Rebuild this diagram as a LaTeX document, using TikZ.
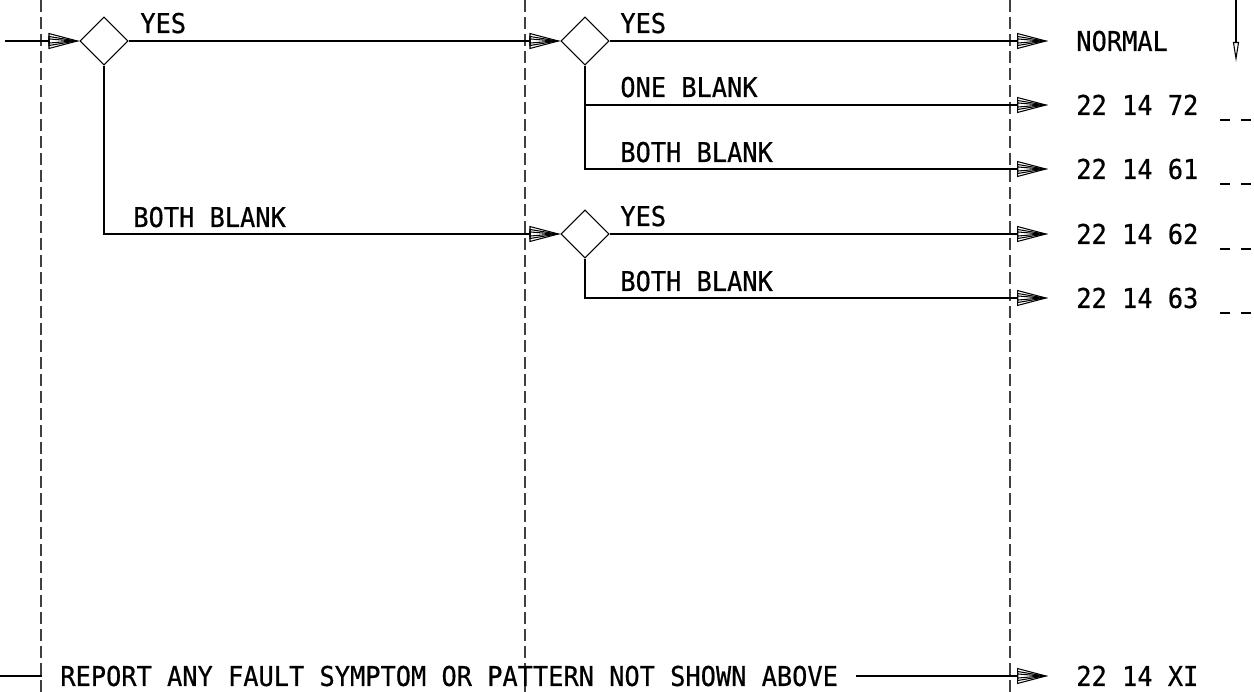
\documentclass[tikz,border=0pt]{standalone}
\usepackage{fontspec}
\newfontfamily\chartfont[FakeStretch=0.93,FakeBold=0.6]{DejaVu Sans Mono}
\usepackage{tikz}
\usetikzlibrary{
  arrows.meta,
  positioning,
  shapes.geometric,
  calc,
}

\begin{document}
\begin{tikzpicture}[
  x=0.02cm, y=-0.02cm,
  decision/.style={
    draw, shape=diamond, minimum width=0.96cm, minimum height=0.96cm,
    inner sep=0pt, line width=0.6pt,
  },
  branch/.style={
    font=\chartfont\fontsize{15.5}{18}\selectfont, anchor=base west,
    inner sep=0pt,
  },
  outcome/.style={
    font=\chartfont\fontsize{15.5}{18}\selectfont, anchor=west,
    inner xsep=0.56cm, inner ysep=0pt, text height=11.3pt, text depth=0pt,
  },
  connector/.style={
    -{Triangle[open,length=0.62cm,width=0.32cm,sep=-0.62cm]
      Triangle[open,length=0.62cm,width=0.2cm,sep=-0.62cm]
      Triangle[open,length=0.62cm,width=0.1cm]},
    line width=0.6pt,
  },
  divider/.style={
    dash pattern=on 0.24cm off 0.1cm, color=black!75, line width=0.6pt,
  },
  stub/.style={dash pattern=on 0.2cm off 0.22cm, line width=0.6pt},
]
  \useasboundingbox (0,0) rectangle (1254,692);

  % --- column dividers ---
  \foreach \x in {41,525,1010}
    \draw[divider] (\x,0) -- (\x,692);

  % --- decisions ---
  \node[decision] (d1) at (104,41) {};
  \node[decision] (d2) at (585,41) {};
  \node[decision] (d3) at (585,234) {};

  % --- outcomes ---
  \node[outcome] (normal) at (1048,41)  {NORMAL};
  \node[outcome] (c72)    at (1048,105) {22 14 72};
  \node[outcome] (c61)    at (1048,169) {22 14 61};
  \node[outcome] (c62)    at (1048,234) {22 14 62};
  \node[outcome] (c63)    at (1048,298) {22 14 63};
  \node[outcome] (cxi)    at (1048,676) {22 14 XI};
  \node[outcome, inner xsep=0.36cm] (report) at (42,676)
    {REPORT ANY FAULT SYMPTOM OR PATTERN NOT SHOWN ABOVE};

  % --- branch labels ---
  \node[branch] at (140,33)  {YES};
  \node[branch] at (133,227) {BOTH BLANK};
  \node[branch] at (620,33)  {YES};
  \node[branch] at (620,97)  {ONE BLANK};
  \node[branch] at (620,162) {BOTH BLANK};
  \node[branch] at (620,226) {YES};
  \node[branch] at (620,291) {BOTH BLANK};

  % --- flow ---
  \coordinate (in) at (5,41);
  \coordinate (r-in) at (0,676);
  \draw[connector] (in) -- (d1);
  \draw[connector] (d1) -- (d2);
  \draw[connector] (d1) |- (d3);
  \draw[connector] (d2) -- (normal);
  \draw[connector] (d2) |- (c72);
  \draw[connector] (d2) |- (c61);
  \draw[connector] (d3) -- (c62);
  \draw[connector] (d3) |- (c63);
  \draw[line width=0.6pt] (r-in) -- (report);
  \draw[connector] (report) -- (cxi);

  % --- continuation marks ---
  \coordinate (top) at (1236,0);
  \coordinate (down) at (1236,62);
  \draw[-{Triangle[open,length=0.4cm,width=0.12cm]}, line width=0.6pt] (top) -- (down);
  \foreach \y in {120,184,249,313}
    \draw[stub] (1220,\y) -- (1254,\y);
\end{tikzpicture}
\end{document}
